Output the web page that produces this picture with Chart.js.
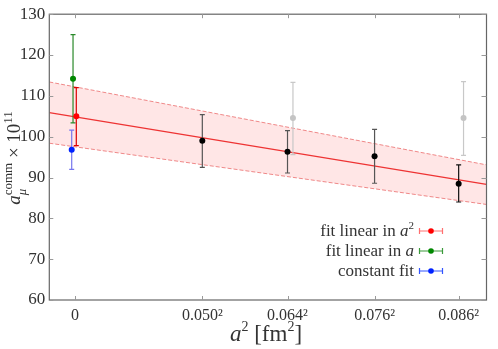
<!DOCTYPE html>
<html>
<head>
<meta charset="utf-8">
<script src="https://cdn.jsdelivr.net/npm/chart.js@4"></script>
<style>
	html, body { margin: 0; padding: 0; background: #fff; }
	#wrap { width: 498px; height: 349px; }
</style>
</head>
<body>
<div id="wrap"><canvas id="myChart"></canvas></div>
<script>
// lattice ensembles, x = a^2 [fm^2]
var ensembleA = [0.0500, 0.0646, 0.0767, 0.0868]
var ensembleY = [99.0, 96.3, 95.2, 88.5]
var ensembleHi = [105.4, 101.5, 101.8, 93.1]
var ensembleLo = [92.5, 91.1, 88.6, 84.0]

// points left out of the fit (grey)
var excludedX = [0.00428, 0.00763]
var excludedY = [104.6, 104.6]
var excludedHi = [113.3, 113.5]
var excludedLo = [95.6, 95.4]

// continuum results (shifted a little around a^2 = 0)
var contLabels = ['fit linear in a²', 'fit linear in a', 'constant fit']
var contX = [0.000025, -0.000039, -0.000065]
var contY = [105.0, 114.2, 96.8]
var contHi = [112.0, 125.0, 101.6]
var contLo = [97.8, 103.4, 92.0]

// fit linear in a^2 with its error band, at the ends of the x range
var fitX = [-0.000505, 0.008081]
var fitCentral = [105.9, 88.3]
var fitUpper = [113.4, 93.1]
var fitLower = [98.4, 83.4]

var tickX = [0, 0.0025, 0.0646 * 0.0646, 0.0767 * 0.0767, 0.0868 * 0.0868]
var tickXLabels = ['0', '0.050²', '0.064²', '0.076²', '0.086²']
var tickY = [60, 70, 80, 90, 100, 110, 120, 130]

var serif = '"Liberation Serif", "DejaVu Serif", serif'
var textColor = '#333'
var axisColor = '#666'

function pts(xs, ys) {
	return xs.map(function(x, i) { return { x: x, y: ys[i] } })
}

var ensembleX = ensembleA.map(function(a) { return a * a })

var data = {
	datasets: [{
		type: 'line',
		data: pts(fitX, fitUpper),
		borderColor: 'rgba(235,110,110,0.8)',
		borderWidth: 1,
		borderDash: [4, 2],
		backgroundColor: 'rgba(255,60,60,0.13)',
		fill: '+1',
		pointRadius: 0,
		order: 10,
	}, {
		type: 'line',
		data: pts(fitX, fitLower),
		borderColor: 'rgba(235,110,110,0.8)',
		borderWidth: 1,
		borderDash: [4, 2],
		fill: false,
		pointRadius: 0,
		order: 9,
	}, {
		type: 'line',
		data: pts(fitX, fitCentral),
		borderColor: '#ee3333',
		borderWidth: 1.2,
		fill: false,
		pointRadius: 0,
		order: 8,
	}, {
		data: pts(excludedX, excludedY),
		hi: excludedHi, lo: excludedLo,
		errColor: ['#c8c8c8', '#c8c8c8'],
		backgroundColor: '#c4c4c4',
		borderWidth: 0,
		pointRadius: 3,
		order: 5,
	}, {
		data: pts(ensembleX, ensembleY),
		hi: ensembleHi, lo: ensembleLo,
		errColor: ['#555', '#555', '#555', '#111'],
		backgroundColor: '#000',
		borderWidth: 0,
		pointRadius: 3,
		order: 4,
	}, {
		data: pts([contX[2]], [contY[2]]),
		hi: [contHi[2]], lo: [contLo[2]],
		errColor: ['#7777ee'],
		backgroundColor: '#0022ff',
		borderWidth: 0,
		pointRadius: 3,
		order: 3,
	}, {
		data: pts([contX[1]], [contY[1]]),
		hi: [contHi[1]], lo: [contLo[1]],
		errColor: ['#2a8a2a'],
		backgroundColor: '#008800',
		borderWidth: 0,
		pointRadius: 3,
		order: 2,
	}, {
		data: pts([contX[0]], [contY[0]]),
		hi: [contHi[0]], lo: [contLo[0]],
		errColor: ['#dd0000'],
		backgroundColor: '#ff0000',
		borderWidth: 0,
		pointRadius: 3,
		order: 1,
	}]
}

// draws rich text runs: [text, font, dy]
function richWidth(ctx, runs) {
	var w = 0
	runs.forEach(function(r) { ctx.font = r[1]; w += ctx.measureText(r[0]).width })
	return w
}
function drawRich(ctx, runs, x, y) {
	runs.forEach(function(r) {
		ctx.font = r[1]
		ctx.fillText(r[0], x, y + r[2])
		x += ctx.measureText(r[0]).width
	})
}

var errorBars = {
	id: 'errorBars',
	beforeDatasetDraw: function(chart, args) {
		var ds = chart.data.datasets[args.index]
		if (!ds.hi) return
		var ctx = chart.ctx
		var xs = chart.scales.x, ys = chart.scales.y
		ctx.save()
		ctx.lineWidth = 1.2
		ds.data.forEach(function(p, i) {
			var px = xs.getPixelForValue(p.x)
			var top = ys.getPixelForValue(ds.hi[i])
			var bot = ys.getPixelForValue(ds.lo[i])
			ctx.strokeStyle = ds.errColor[i]
			ctx.beginPath()
			ctx.moveTo(px, top); ctx.lineTo(px, bot)
			ctx.moveTo(px - 2.5, top); ctx.lineTo(px + 2.5, top)
			ctx.moveTo(px - 2.5, bot); ctx.lineTo(px + 2.5, bot)
			ctx.stroke()
		})
		ctx.restore()
	}
}

var frame = {
	id: 'frame',
	afterDraw: function(chart) {
		var ctx = chart.ctx
		var a = chart.chartArea
		var xs = chart.scales.x, ys = chart.scales.y
		ctx.save()
		ctx.strokeStyle = axisColor
		ctx.lineWidth = 1.2
		ctx.strokeRect(a.left, a.top, a.right - a.left, a.bottom - a.top)
		ctx.strokeStyle = '#999'
		ctx.lineWidth = 1
		ctx.beginPath()
		tickX.forEach(function(v) {
			var px = Math.round(xs.getPixelForValue(v)) + 0.5
			ctx.moveTo(px, a.bottom); ctx.lineTo(px, a.bottom - 4)
			ctx.moveTo(px, a.top); ctx.lineTo(px, a.top + 4)
		})
		tickY.forEach(function(v) {
			var py = Math.round(ys.getPixelForValue(v)) + 0.5
			ctx.moveTo(a.left, py); ctx.lineTo(a.left + 4, py)
			ctx.moveTo(a.right, py); ctx.lineTo(a.right - 5, py)
		})
		ctx.stroke()

		// axis titles
		ctx.fillStyle = textColor
		ctx.textBaseline = 'alphabetic'
		var big = '19px ' + serif, bigI = 'italic 19px ' + serif, small = '13px ' + serif
		var xt = [['a', 'italic 23px ' + serif, 0], ['2', '14px ' + serif, -10], [' [fm', '23px ' + serif, 0], ['2', '14px ' + serif, -10], [']', '23px ' + serif, 0]]
		var w = richWidth(ctx, xt)
		drawRich(ctx, xt, 266 - w / 2, 341)

		var yt = [['a', bigI, 0], ['comm', small, -8], [' × 10', big, 0], ['11', small, -8]]
		w = richWidth(ctx, yt)
		ctx.translate(20, 158)
		ctx.rotate(-Math.PI / 2)
		ctx.font = bigI
		var aw = ctx.measureText('a').width
		drawRich(ctx, yt, -w / 2, 0)
		ctx.font = 'italic 13px ' + serif
		ctx.fillText('μ', -w / 2 + aw, 6)
		ctx.restore()

		// legend
		ctx.save()
		var rows = [
			[[['fit linear in ', '17px ' + serif, 0], ['a', 'italic 17px ' + serif, 0], ['2', '11px ' + serif, -7]], '#ff7070', '#ff0000'],
			[[['fit linear in ', '17px ' + serif, 0], ['a', 'italic 17px ' + serif, 0]], '#3a9a3a', '#008800'],
			[[['constant fit', '17px ' + serif, 0]], '#3355ff', '#0022ff'],
		]
		rows.forEach(function(r, i) {
			var y = 231 + i * 20
			var tw = richWidth(ctx, r[0])
			ctx.fillStyle = textColor
			drawRich(ctx, r[0], 414 - tw, y + 5)
			ctx.strokeStyle = r[1]
			ctx.lineWidth = 1.2
			ctx.beginPath()
			ctx.moveTo(419, y); ctx.lineTo(443, y)
			ctx.moveTo(419.5, y - 3); ctx.lineTo(419.5, y + 3)
			ctx.moveTo(442.5, y - 3); ctx.lineTo(442.5, y + 3)
			ctx.stroke()
			ctx.fillStyle = r[2]
			ctx.beginPath()
			ctx.arc(431, y, 2.8, 0, Math.PI * 2)
			ctx.fill()
		})
		ctx.restore()
	}
}

var ctx = document.getElementById('myChart')
var chart = new Chart(ctx, {
	type: 'scatter',
	data: data,
	options: {
		responsive: true,
		maintainAspectRatio: false,
		animation: false,
		layout: { padding: { left: 0, right: 11.5, top: 13, bottom: 0 } },
		plugins: { legend: { display: false }, tooltip: { enabled: false } },
		scales: {
			x: {
				type: 'linear',
				min: fitX[0],
				max: fitX[1],
				grid: { display: false, drawTicks: false },
				border: { display: false },
				afterBuildTicks: function(scale) {
					scale.ticks = tickX.map(function(v) { return { value: v } })
				},
				afterFit: function(scale) { scale.height = 49 },
				ticks: {
					padding: 6,
					color: textColor,
					font: { family: serif, size: 16 },
					maxRotation: 0,
					autoSkip: false,
					callback: function(v, i) { return tickXLabels[i] },
				},
			},
			y: {
				min: 60,
				max: 130,
				grid: { display: false, drawTicks: false },
				border: { display: false },
				afterFit: function(scale) { scale.width = 49.3 },
				ticks: {
					stepSize: 10,
					padding: 4,
					color: textColor,
					font: { family: serif, size: 17 },
				},
			},
		},
	},
	plugins: [errorBars, frame],
})
</script>
</body>
</html>
